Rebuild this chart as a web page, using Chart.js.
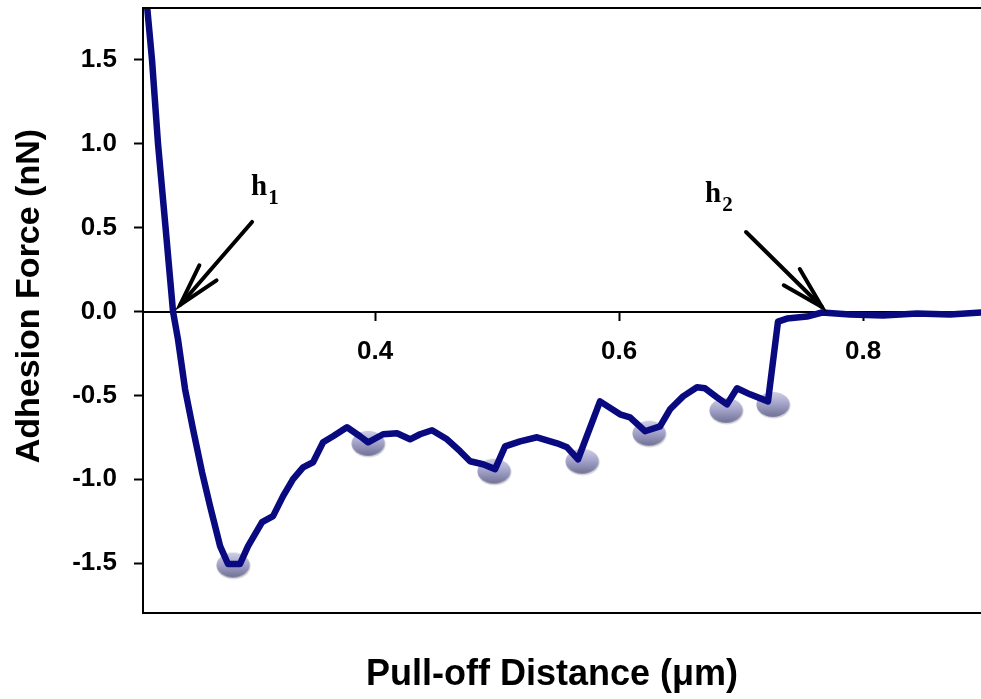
<!DOCTYPE html>
<html>
<head>
<meta charset="utf-8">
<script src="https://cdn.jsdelivr.net/npm/chart.js@4/dist/chart.umd.min.js"></script>
<style>
html,body{margin:0;padding:0;background:#fff;}
#wrap{width:981px;height:699px;}
</style>
</head>
<body>
<div id="wrap"><canvas id="c" width="981" height="699"></canvas></div>
<script>
// Pull-off distance (µm) and adhesion force (nN) of the retraction curve
const distance = [0.2115, 0.2172, 0.2221, 0.2283, 0.2344, 0.2385, 0.2443, 0.2508, 0.2582, 0.2648,
  0.2730, 0.2795, 0.2893, 0.2959, 0.3074, 0.3164, 0.3246, 0.3328, 0.3410, 0.3492,
  0.3574, 0.3656, 0.3770, 0.3877, 0.3943, 0.4066, 0.4180, 0.4287, 0.4369, 0.4467,
  0.4590, 0.4697, 0.4779, 0.4885, 0.4984, 0.5066, 0.5189, 0.5328, 0.5492, 0.5574,
  0.5664, 0.5844, 0.6008, 0.6090, 0.6213, 0.6336, 0.6418, 0.6525, 0.6639, 0.6705,
  0.6803, 0.6885, 0.6967, 0.7074, 0.7221, 0.7303, 0.7377, 0.7541, 0.7664, 0.7893,
  0.8164, 0.8443, 0.8713, 0.8967];
const force = [1.95, 1.50, 1.00, 0.50, 0.00, -0.167, -0.464, -0.702, -0.958, -1.161,
  -1.399, -1.506, -1.506, -1.399, -1.256, -1.220, -1.101, -1.000, -0.929, -0.899,
  -0.780, -0.744, -0.690, -0.744, -0.780, -0.732, -0.726, -0.762, -0.732, -0.708,
  -0.762, -0.833, -0.893, -0.911, -0.940, -0.804, -0.774, -0.750, -0.786, -0.810,
  -0.881, -0.536, -0.613, -0.631, -0.714, -0.685, -0.583, -0.506, -0.452, -0.458,
  -0.512, -0.554, -0.458, -0.494, -0.536, -0.060, -0.042, -0.030, -0.006, -0.018,
  -0.024, -0.012, -0.018, -0.006];
// rupture events (grey beads)
const ruptureDistance = [0.2836, 0.3943, 0.4975, 0.5697, 0.6246, 0.6877, 0.7262];
const ruptureForce = [-1.512, -0.786, -0.952, -0.893, -0.726, -0.589, -0.554];
// axis ticks
const xTicks = [0.4, 0.6, 0.8];
const yTicks = [-1.5, -1.0, -0.5, 0.0, 0.5, 1.0, 1.5];
// annotation labels
const labelText = ['h', 'h'];
const labelSub = ['1', '2'];
const labelX = [0.2984, 0.6705];
const labelY = [0.695, 0.653];
const arrowTailX = [0.2992, 0.7041];
const arrowTailY = [0.534, 0.474];
const arrowTipX = [0.2402, 0.7664];
const arrowTipY = [0.039, 0.027];

function makeBead() {
  const c = document.createElement('canvas');
  c.width = 38; c.height = 31;
  const g = c.getContext('2d');
  g.fillStyle = 'rgba(90,90,110,0.28)';
  g.beginPath(); g.ellipse(19.5, 16.5, 17, 13, 0, 0, Math.PI * 2); g.fill();
  const grad = g.createLinearGradient(0, 3, 0, 28);
  grad.addColorStop(0, '#cfcfe6');
  grad.addColorStop(0.45, '#a6a6cc');
  grad.addColorStop(1, '#717196');
  g.fillStyle = grad;
  g.beginPath(); g.ellipse(19, 15.5, 16.5, 12.5, 0, 0, Math.PI * 2); g.fill();
  return c;
}

const SANS = '"Liberation Sans", Arial, Helvetica, sans-serif';

const annotate = {
  id: 'annotate',
  afterDraw(chart) {
    const ctx = chart.ctx, xs = chart.scales.x, ys = chart.scales.y, a = chart.chartArea;
    ctx.save();
    // top frame line
    ctx.strokeStyle = '#000'; ctx.lineWidth = 2;
    ctx.beginPath(); ctx.moveTo(a.left - 1, a.top); ctx.lineTo(a.right, a.top); ctx.stroke();
    for (let i = 0; i < labelText.length; i++) {
      const lx = xs.getPixelForValue(labelX[i]), ly = ys.getPixelForValue(labelY[i]);
      ctx.fillStyle = '#000';
      ctx.textBaseline = 'alphabetic'; ctx.textAlign = 'left';
      ctx.font = 'bold 29px "Liberation Serif", "Times New Roman", serif';
      ctx.fillText(labelText[i], lx, ly);
      const w = ctx.measureText(labelText[i]).width;
      ctx.font = 'bold 21px "Liberation Serif", "Times New Roman", serif';
      ctx.fillText(labelSub[i], lx + w + 1, ly + 9);
      // arrow
      const tx = xs.getPixelForValue(arrowTailX[i]), ty = ys.getPixelForValue(arrowTailY[i]);
      const px = xs.getPixelForValue(arrowTipX[i]), py = ys.getPixelForValue(arrowTipY[i]);
      ctx.strokeStyle = '#000'; ctx.lineWidth = 4; ctx.lineCap = 'round';
      ctx.beginPath(); ctx.moveTo(tx, ty); ctx.lineTo(px, py); ctx.stroke();
      const ang = Math.atan2(ty - py, tx - px);
      const L = 44, da = 15 * Math.PI / 180;
      ctx.beginPath();
      ctx.moveTo(px + L * Math.cos(ang - da), py + L * Math.sin(ang - da));
      ctx.lineTo(px, py);
      ctx.lineTo(px + L * Math.cos(ang + da), py + L * Math.sin(ang + da));
      ctx.stroke();
    }
    ctx.restore();
  }
};

const bead = makeBead();

new Chart(document.getElementById('c'), {
  type: 'line',
  data: {
    datasets: [
      {
        label: 'Retraction',
        data: distance.map((d, i) => ({x: d, y: force[i]})),
        borderColor: '#0a0a80',
        borderWidth: 6.5,
        borderJoinStyle: 'round',
        borderCapStyle: 'round',
        tension: 0,
        pointRadius: 0,
        fill: false,
        order: 0
      },
      {
        label: 'Rupture',
        data: ruptureDistance.map((d, i) => ({x: d, y: ruptureForce[i]})),
        showLine: false,
        pointStyle: bead,
        pointRadius: 16,
        order: 1
      }
    ]
  },
  options: {
    responsive: false,
    animation: false,
    layout: {autoPadding: false, padding: {top: 8, right: 0, bottom: 0, left: 0}},
    plugins: {legend: {display: false}, tooltip: {enabled: false}},
    scales: {
      x: {
        type: 'linear',
        position: {y: 0},
        min: 0.2098, max: 0.8967,
        afterFit(s) { s.paddingLeft = 0; s.paddingRight = 0; s.paddingTop = 0; s.paddingBottom = 0; },
        afterBuildTicks(s) { s.ticks = xTicks.map(v => ({value: v})); },
        ticks: {
          color: '#000',
          font: {family: SANS, size: 26, weight: 'bold'},
          padding: 17,
          maxRotation: 0,
          callback: v => v.toFixed(1)
        },
        grid: {display: true, drawOnChartArea: false, drawTicks: true, tickLength: 8, tickWidth: 2, color: '#000'},
        border: {display: true, color: '#000', width: 2},
        title: {display: false}
      },
      xTitle: {
        type: 'linear',
        axis: 'x',
        position: 'bottom',
        min: 0.2098, max: 0.8967,
        afterFit(s) { s.height = 86.5; s.paddingLeft = 0; s.paddingRight = 0; },
        ticks: {display: false},
        grid: {display: false},
        border: {display: true, color: '#000', width: 2},
        title: {
          display: true,
          text: 'Pull-off Distance (\u03bcm)  ',
          color: '#000',
          font: {family: SANS, size: 36, weight: 'bold'},
          padding: {top: 0, bottom: 2}
        }
      },
      y: {
        type: 'linear',
        position: 'left',
        min: -1.795, max: 1.81,
        afterFit(s) { s.width = 143; s.paddingTop = 0; s.paddingBottom = 0; },
        afterBuildTicks(s) { s.ticks = yTicks.map(v => ({value: v})); },
        ticks: {
          color: '#000',
          font: {family: SANS, size: 26, weight: 'bold'},
          padding: 17,
          callback: v => v.toFixed(1)
        },
        grid: {display: true, drawOnChartArea: false, drawTicks: true, tickLength: 9, tickWidth: 2, color: '#000'},
        border: {display: true, color: '#000', width: 2},
        title: {
          display: true,
          text: '   Adhesion Force (nN)',
          color: '#000',
          font: {family: SANS, size: 34, weight: 'bold'},
          padding: {top: 9, bottom: 0}
        }
      }
    }
  },
  plugins: [annotate]
});
</script>
</body>
</html>
